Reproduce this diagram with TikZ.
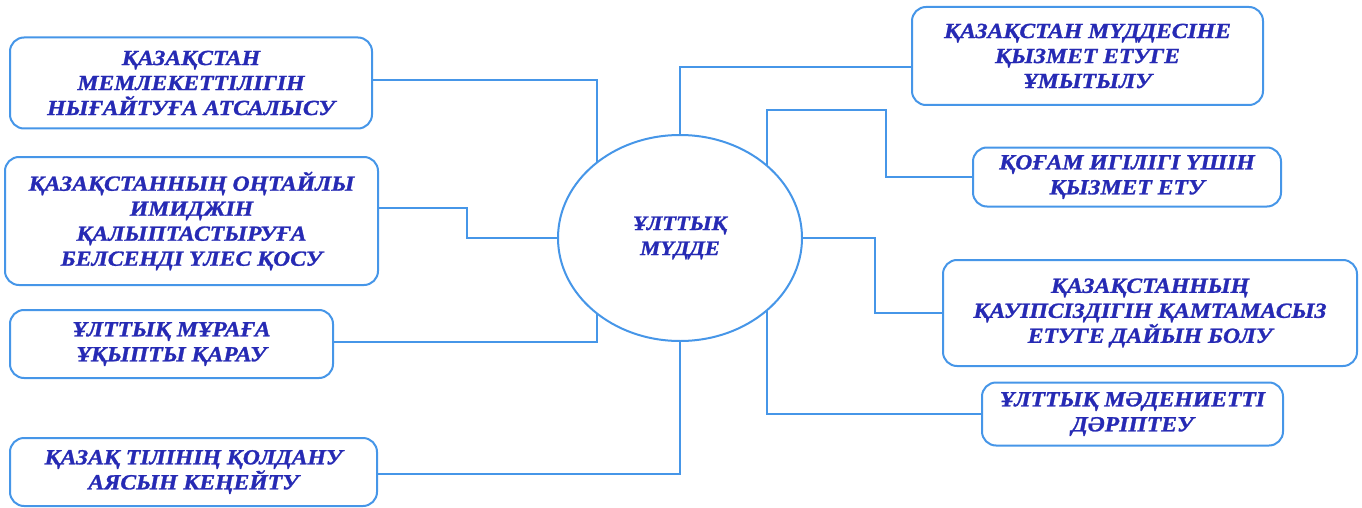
\documentclass[tikz,border=0pt]{standalone}
\usepackage{fontspec}
\setmainfont{Liberation Serif}
\newfontfamily\dfont[FakeStretch=1.1,FakeBold=1.2]{Liberation Serif}
\usetikzlibrary{shapes.geometric,backgrounds,calc}
\definecolor{lineblue}{RGB}{70,150,232}
\definecolor{txtblue}{RGB}{38,42,180}
\tikzset{
  box/.style={draw=lineblue, line width=2pt, rounded corners=14pt, fill=white,
    align=center, inner sep=0pt, text=txtblue,
    font=\dfont\fontsize{21.5}{25}\selectfont\bfseries\itshape},
  conn/.style={draw=lineblue, line width=2pt},
}
\begin{document}
\begin{tikzpicture}[x=1pt,y=-1pt]
\useasboundingbox (0,0) rectangle (1362,508);
\node[ellipse, draw=lineblue, line width=2pt, fill=white, minimum width=244pt, minimum height=206pt,
  inner sep=0pt, align=center, text=txtblue, font=\dfont\fontsize{20.5}{25}\selectfont\bfseries\itshape]
  (e) at (680,238) {ҰЛТТЫҚ\\МҮДДЕ};
\node[box, minimum width=362pt, minimum height=91pt] (b1) at (191,83)
  {ҚАЗАҚСТАН\\МЕМЛЕКЕТТІЛІГІН\\НЫҒАЙТУҒА АТСАЛЫСУ};
\node[box, minimum width=373pt, minimum height=128pt] (b2) at (191.5,221)
  {ҚАЗАҚСТАННЫҢ ОҢТАЙЛЫ\\ИМИДЖІН\\ҚАЛЫПТАСТЫРУҒА\\БЕЛСЕНДІ ҮЛЕС ҚОСУ};
\node[box, minimum width=323pt, minimum height=68pt] (b3) at (171.5,344)
  {ҰЛТТЫҚ МҰРАҒА\\ҰҚЫПТЫ ҚАРАУ};
\node[box, minimum width=367pt, minimum height=68pt] (b4) at (193.5,472)
  {ҚАЗАҚ ТІЛІНІҢ ҚОЛДАНУ\\АЯСЫН КЕҢЕЙТУ};
\node[box, minimum width=351pt, minimum height=98pt] (b5) at (1087.5,56)
  {ҚАЗАҚСТАН МҮДДЕСІНЕ\\ҚЫЗМЕТ ЕТУГЕ\\ҰМЫТЫЛУ};
\node[box, minimum width=308pt, minimum height=59pt] (b6) at (1127,177)
  {ҚОҒАМ ИГІЛІГІ ҮШІН\\ҚЫЗМЕТ ЕТУ};
\node[box, minimum width=414pt, minimum height=106pt] (b7) at (1150,313)
  {ҚАЗАҚСТАННЫҢ\\ҚАУІПСІЗДІГІН ҚАМТАМАСЫЗ\\ЕТУГЕ ДАЙЫН БОЛУ};
\node[box, minimum width=301pt, minimum height=63pt] (b8) at (1132.5,414)
  {ҰЛТТЫҚ МӘДЕНИЕТТІ\\ДӘРІПТЕУ};
\coordinate (jL) at ($(e.center)+(-83,0)$);
\coordinate (jR) at ($(e.center)+(87,0)$);
\coordinate (k2) at (467,208);
\coordinate (k6) at (886,110);
\coordinate (k7) at (875,238);
\begin{scope}[on background layer]
\draw[conn] ([yshift=3pt]b1.east) -| (jL);
\draw[conn] ([yshift=13pt]b2.east) -- (k2) |- (e.west);
\draw[conn] ([yshift=2pt]b3.east) -| (jL);
\draw[conn] ([yshift=-2pt]b4.east) -| (e.center);
\draw[conn] (e.center) |- ([yshift=-11pt]b5.west);
\draw[conn] (jR) |- (k6) |- (b6.west);
\draw[conn] (e.east) -- (k7) |- (b7.west);
\draw[conn] (jR) |- (b8.west);
\end{scope}
\end{tikzpicture}
\end{document}
